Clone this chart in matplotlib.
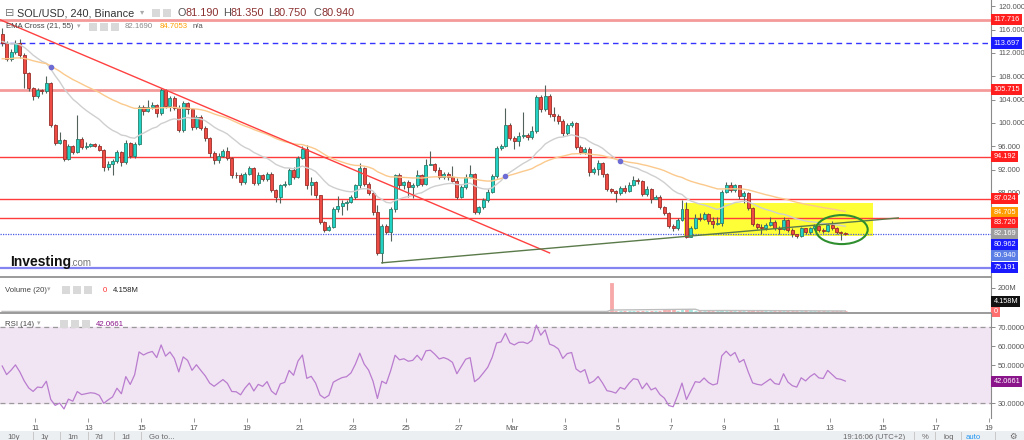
import numpy as np
import pandas as pd
import matplotlib
matplotlib.use("Agg")
import matplotlib.pyplot as plt
import matplotlib.dates as mdates
from matplotlib.patches import Rectangle, Ellipse
from matplotlib.lines import Line2D

plt.rcParams['font.family'] = ['Liberation Sans', 'DejaVu Sans']

# SOL/USD 4h candles (first candle opens Feb 9, 18:00)
first_candle = "2022-02-09 18:00"
first_open = 115.3
close = [
    113.7, 111.0, 112.2, 113.7, 111.6, 108.6, 106.0, 104.6, 105.6, 105.4,
    106.8, 99.6, 96.5, 97.0, 93.8, 96.0, 95.0, 97.2, 95.9, 96.1,
    96.3, 96.1, 95.4, 92.4, 93.0, 93.5, 95.0, 93.3, 96.6, 94.3,
    96.4, 102.8, 102.0, 102.7, 103.1, 101.7, 105.6, 102.9, 104.2, 102.6,
    98.8, 103.4, 102.4, 99.3, 101.0, 99.2, 97.4, 94.8, 93.6, 94.4,
    95.2, 94.0, 91.1, 91.0, 89.9, 91.2, 92.2, 89.7, 91.0, 90.4,
    91.3, 88.5, 87.3, 89.3, 89.6, 92.0, 90.8, 94.0, 95.6, 89.3,
    89.8, 87.6, 83.0, 81.6, 82.2, 85.2, 85.8, 86.3, 86.5, 87.3,
    89.3, 92.2, 89.6, 88.0, 84.7, 77.7, 82.3, 81.3, 85.2, 91.0,
    89.4, 89.8, 89.0, 89.3, 91.0, 89.6, 92.8, 93.0, 92.0, 90.8,
    91.2, 90.8, 90.1, 87.3, 89.0, 90.8, 91.2, 84.7, 85.5, 86.8,
    88.2, 90.9, 95.7, 96.1, 99.6, 97.4, 96.9, 97.8, 97.9, 97.6,
    98.6, 104.4, 102.4, 104.6, 101.5, 101.1, 100.4, 98.2, 99.6, 99.9,
    95.9, 95.0, 95.6, 91.6, 92.1, 93.1, 91.2, 88.7, 88.4, 87.9,
    88.9, 88.4, 89.4, 90.2, 90.0, 87.8, 88.7, 87.0, 87.3, 85.6,
    84.6, 82.3, 81.9, 83.4, 85.3, 80.5, 82.0, 83.7, 83.5, 84.3,
    83.2, 82.6, 82.8, 88.2, 89.4, 88.5, 89.3, 87.4, 88.0, 85.4,
    82.6, 82.2, 82.0, 82.5, 83.0, 82.0, 81.8, 83.4, 81.7, 80.9,
    80.6, 81.9, 81.3, 81.9, 82.3, 81.6, 81.5, 82.5, 81.9, 81.3,
    81.19, 80.94,
]
high = [
    116.3, 114.0, 112.6, 114.2, 114.4, 112.0, 108.8, 106.2, 106.0, 105.9,
    108.0, 107.0, 99.8, 98.4, 97.2, 96.3, 96.2, 101.4, 97.6, 96.8,
    96.6, 96.6, 96.3, 95.6, 93.4, 93.8, 95.3, 95.2, 97.0, 96.8,
    96.8, 103.0, 103.1, 103.9, 103.6, 103.3, 106.0, 105.8, 104.6, 104.6,
    103.0, 103.8, 103.6, 102.5, 101.3, 101.4, 99.5, 97.6, 95.2, 94.8,
    95.5, 95.9, 94.2, 91.5, 91.4, 91.5, 92.6, 92.5, 91.5, 91.3,
    91.6, 91.5, 88.7, 89.6, 90.0, 92.3, 92.4, 94.4, 96.0, 96.2,
    90.8, 90.0, 87.7, 83.2, 82.5, 85.5, 87.5, 86.7, 86.8, 87.6,
    89.6, 93.1, 92.5, 89.8, 88.2, 85.9, 82.6, 82.6, 85.6, 91.3,
    91.4, 90.0, 90.2, 89.7, 92.0, 91.3, 93.8, 95.2, 93.2, 92.4,
    91.6, 91.5, 92.6, 90.6, 89.3, 91.2, 92.8, 91.4, 85.8, 87.1,
    88.6, 91.2, 96.1, 96.4, 102.5, 99.9, 97.8, 98.5, 101.8, 98.2,
    99.4, 104.8, 104.8, 106.5, 104.9, 102.7, 101.5, 100.6, 99.9, 100.4,
    100.2, 96.2, 95.9, 95.9, 92.4, 93.6, 93.3, 91.4, 88.9, 88.5,
    89.2, 89.3, 89.8, 90.9, 90.6, 90.2, 89.2, 88.9, 87.6, 87.7,
    85.8, 84.8, 82.6, 83.7, 86.8, 86.4, 82.3, 84.3, 84.6, 84.7,
    84.6, 83.8, 83.8, 88.5, 89.9, 89.9, 89.6, 89.4, 88.4, 88.2,
    85.6, 82.9, 82.6, 82.9, 83.9, 83.3, 82.3, 83.9, 83.6, 81.9,
    81.0, 82.2, 82.0, 82.2, 82.6, 82.5, 81.9, 82.9, 83.2, 82.1,
    81.5, 81.35,
]
low = [
    113.2, 110.6, 110.7, 111.9, 111.2, 106.0, 105.5, 104.0, 104.2, 105.0,
    105.2, 99.3, 96.2, 96.3, 93.4, 93.6, 94.7, 94.8, 95.5, 95.6,
    95.9, 95.8, 95.1, 91.8, 92.0, 91.1, 93.2, 92.6, 93.0, 93.9,
    94.0, 96.2, 101.4, 101.8, 102.4, 101.0, 101.3, 102.5, 102.0, 102.2,
    98.4, 98.5, 101.6, 98.8, 98.9, 98.8, 96.9, 94.2, 92.9, 93.2,
    94.1, 93.6, 90.6, 90.5, 89.4, 89.5, 91.0, 89.3, 89.4, 90.0,
    90.1, 88.2, 86.4, 86.3, 89.0, 89.3, 90.4, 90.5, 93.8, 88.6,
    87.6, 87.2, 82.6, 81.3, 81.4, 81.9, 84.8, 84.2, 85.0, 86.3,
    87.0, 88.8, 89.2, 87.6, 84.2, 77.3, 76.0, 80.9, 79.8, 84.7,
    88.7, 88.7, 87.3, 87.2, 89.0, 89.2, 89.4, 92.7, 91.5, 90.4,
    90.4, 90.2, 89.8, 87.0, 87.1, 88.7, 90.5, 84.3, 84.3, 85.3,
    86.5, 88.0, 90.6, 95.4, 95.8, 97.0, 95.6, 96.1, 97.4, 97.1,
    97.2, 98.3, 101.9, 102.0, 101.0, 100.3, 99.8, 97.8, 98.0, 99.3,
    95.5, 94.6, 94.7, 90.9, 91.3, 91.0, 90.8, 88.3, 88.0, 86.4,
    87.6, 88.0, 88.2, 89.2, 89.6, 87.4, 87.4, 86.3, 86.9, 85.2,
    84.2, 82.0, 81.5, 81.6, 83.2, 80.3, 80.4, 81.8, 83.2, 83.3,
    82.7, 82.0, 82.5, 82.4, 87.9, 88.1, 88.2, 87.0, 86.3, 85.1,
    82.3, 81.8, 81.0, 81.7, 82.3, 81.6, 81.0, 81.6, 81.3, 80.5,
    80.2, 80.5, 81.0, 81.0, 81.7, 81.3, 81.2, 81.3, 81.6, 81.0,
    80.0, 80.75,
]
# volume in millions (the feed shows no volume before Mar 4)
volume_m = [
    0, 0, 0, 0, 0, 0, 0, 0, 0, 0, 0, 0, 0, 0, 0, 0, 0, 0, 0, 0, 0, 0, 0, 0,
    0, 0, 0, 0, 0, 0, 0, 0, 0, 0, 0, 0, 0, 0, 0, 0, 0, 0, 0, 0, 0, 0, 0, 0,
    0, 0, 0, 0, 0, 0, 0, 0, 0, 0, 0, 0, 0, 0, 0, 0, 0, 0, 0, 0, 0, 0, 0, 0,
    0, 0, 0, 0, 0, 0, 0, 0, 0, 0, 0, 0, 0, 0, 0, 0, 0, 0, 0, 0, 0, 0, 0, 0,
    0, 0, 0, 0, 0, 0, 0, 0, 0, 0, 0, 0, 0, 0, 0, 0, 0, 0, 0, 0, 0, 0, 0, 0,
    0, 0, 0, 0, 0, 0, 0, 0, 0, 0, 0, 0, 0, 0, 0, 0, 0, 0,
    240, 6, 5, 4, 5, 3, 4, 6, 5, 7, 4, 8, 9, 12, 10, 8, 9, 14, 10, 8,
    6, 5, 6, 5, 4, 11, 8, 6, 5, 6, 5, 7, 9, 6, 5, 4, 5, 6, 4, 5,
    6, 5, 4, 5, 4, 3, 4, 4, 3, 5, 6, 4, 3, 0,
]

# EMA values just before the first visible candle
ema21_seed, ema55_seed = 114.0, 110.9

level_values = [117.716, 113.697, 105.715, 94.192, 87.024, 84.705, 83.720,
                82.169, 80.962, 80.940, 75.191]
level_box_colors = ['#ff1f1f', '#1a1aff', '#ff1f1f', '#ff1f1f', '#ff1f1f', '#ff9c00',
                    '#ff1f1f', '#9e9e9e', '#1a1aff', '#5a7ee6', '#1a1aff']
price_ticks = [88, 92, 96, 100, 104, 108, 112, 116, 120]
rsi_ticks = [30, 50, 60, 70]

# user drawings: (time, price)
red_trend = [("2022-02-09 16:00", 117.7), ("2022-03-02 10:00", 77.7)]
green_trend = [("2022-02-24 02:00", 76.0), ("2022-03-15 14:00", 83.7)]
yellow_box = [("2022-03-07 12:00", 80.6), ("2022-03-14 15:00", 86.25)]
circle_center = ("2022-03-13 10:45", 81.7)

W, H = 1024, 440
fig = plt.figure(figsize=(W / 100, H / 100), dpi=100)


def panel(top, bottom, share=None):
    return fig.add_axes([0, 1 - bottom / H, 991 / W, (bottom - top) / H], sharex=share)


ax = panel(0, 277)
axv = panel(277, 313, ax)
axr = panel(313, 418, ax)

t = mdates.date2num(pd.date_range(first_candle, periods=len(close), freq="4h").to_pydatetime())
o = np.array([first_open] + close[:-1])
o[-1] = 81.19
c = np.array(close)
hi = np.array(high)
lo = np.array(low)
up = c >= o
w = 0.113

# candles
ax.vlines(t, lo, hi, color='#52625a', lw=0.8, zorder=3)
body = np.maximum(np.abs(c - o), 0.12)
ax.bar(t, body, bottom=np.minimum(o, c), width=w,
       color=np.where(up, '#22d3c5', '#ee4b45'),
       edgecolor=np.where(up, '#2a7f6c', '#9a2e2a'), linewidth=0.6, zorder=4)


def ema(vals, span, seed):
    a = 2 / (span + 1)
    e, out = seed, []
    for v in vals:
        e = e + a * (v - e)
        out.append(e)
    return np.array(out)


e21 = ema(close, 21, ema21_seed)
e55 = ema(close, 55, ema55_seed)
ax.plot(t, e21, color='#cfcfcf', lw=1.0, zorder=5)
ax.plot(t, e55, color='#fbc98c', lw=1.0, zorder=5)
diff = e21 - e55
cross = np.where(np.sign(diff[1:]) != np.sign(diff[:-1]))[0] + 1
ax.plot(t[cross], (e21[cross] + e55[cross]) / 2, 'o', color='#6c6cd4', ms=3, zorder=6)

# horizontal levels
ax.axhline(117.716, color='#f59a9a', lw=2, zorder=2)
ax.axhline(113.697, color='#3535ff', lw=1, ls=(0, (4, 3)), zorder=2)
ax.axhline(105.715, color='#f59a9a', lw=2, zorder=2)
for lv in (94.192, 87.024, 83.720):
    ax.axhline(lv, color='#ff3b3b', lw=1, zorder=2)
ax.axhline(80.940, color='#4b5be6', lw=0.9, ls=(0, (1, 1)), zorder=2)
ax.axhline(75.191, color='#8383f2', lw=1.6, zorder=2)


def dn(s):
    return mdates.datestr2num(s)


# drawings
ax.plot([dn(p[0]) for p in red_trend], [p[1] for p in red_trend], color='#ff4040', lw=1, zorder=6)
ax.plot([dn(p[0]) for p in green_trend], [p[1] for p in green_trend], color='#5b7a4a', lw=1, zorder=6)
x0, x1 = dn(yellow_box[0][0]), dn(yellow_box[1][0])
ax.add_patch(Rectangle((x0, yellow_box[0][1]), x1 - x0, yellow_box[1][1] - yellow_box[0][1],
                       fc='#ffff22', ec='none', alpha=0.9, zorder=1))
ax.add_patch(Ellipse((dn(circle_center[0]), circle_center[1]), 1.96, 4.97,
                     fc='none', ec='#2f8f2f', lw=1.5, zorder=7))

# volume
axv.bar(t, volume_m, width=w, color=np.where(up, '#9fe5dc', '#f7a8a8'),
        edgecolor=np.where(up, '#9fe5dc', '#f7a8a8'), linewidth=0.6)
axv.plot(t, pd.Series(volume_m).rolling(20, min_periods=1).mean(), color='#bdbdbd', lw=1)


# RSI (Wilder, 14)
def rsi(vals, prev, n, g, l):
    out = []
    for v in vals:
        d = v - prev
        prev = v
        g = (g * (n - 1) + max(d, 0)) / n
        l = (l * (n - 1) + max(-d, 0)) / n
        out.append(100 - 100 / (1 + g / l))
    return np.array(out)


r = rsi(close, first_open, 14, 1.1, 1.0)
axr.axhspan(30, 70, color='#f2e5f3', zorder=0)
axr.axhline(70, color='#999999', lw=0.9, ls=(0, (4, 3)))
axr.axhline(30, color='#999999', lw=0.9, ls=(0, (4, 3)))
axr.plot(t, r, color='#b97ccf', lw=0.9)

# axes cosmetics
ax.set_xlim(dn("2022-02-09 16:00"), dn("2022-03-19 02:00"))
ax.set_ylim(73.57, 121.08)
axv.set_ylim(-12.9, 288.8)
axr.set_ylim(22.1, 77.4)
for a in (ax, axv, axr):
    for s in ('top', 'left'):
        a.spines[s].set_visible(False)
    a.spines['right'].set_color('#8a8a8a')
    a.spines['bottom'].set_color('#8a8a8a')
    a.spines['bottom'].set_linewidth(1.2)
    a.yaxis.tick_right()
    a.tick_params(axis='y', length=3, width=0.7, color='#8a8a8a', labelsize=5.4,
                  labelcolor='#555555', pad=2)
    a.set_facecolor('none')
axr.spines['bottom'].set_visible(False)
ax.tick_params(axis='x', bottom=False, labelbottom=False)
axv.tick_params(axis='x', bottom=False, labelbottom=False)

ax.set_yticks(price_ticks)
ax.yaxis.set_major_formatter(matplotlib.ticker.FormatStrFormatter('%.3f'))
axv.set_yticks([200])
axv.set_yticklabels(['200M'])
axr.set_yticks(rsi_ticks)
axr.yaxis.set_major_formatter(matplotlib.ticker.FormatStrFormatter('%.4f'))

tick_days = pd.date_range("2022-02-11", "2022-03-19", freq="2D")
axr.set_xticks(mdates.date2num(tick_days.to_pydatetime()))
axr.set_xticklabels(['Mar' if d.day == 1 else str(d.day) for d in tick_days])
axr.tick_params(axis='x', length=3, width=0.7, color='#999999', labelsize=5.6,
                labelcolor='#555555', pad=2)


# price boxes on the right axis, pushed apart when they overlap
def boxes(a, vals, colors, gap, fs=5.3):
    prev = None
    for v, col in sorted(zip(vals, colors), key=lambda p: -p[0]):
        y = v if prev is None else min(v, prev - gap)
        prev = y
        a.text(1.0025, y, f"{v:.3f}", transform=a.get_yaxis_transform(), ha='left', va='center',
               color='white', fontsize=fs, zorder=20, clip_on=False,
               bbox=dict(boxstyle='square,pad=0.28', fc=col, ec='none'))


boxes(ax, level_values, level_box_colors, 1.85)
axr.text(1.0025, r[-1], "42.0661", transform=axr.get_yaxis_transform(), ha='left', va='center',
         color='white', fontsize=5.3, zorder=20, clip_on=False,
         bbox=dict(boxstyle='square,pad=0.28', fc='#8a148a', ec='none'))
axv.text(1.0025, 0, "0", transform=axv.get_yaxis_transform(), ha='left', va='center',
         color='white', fontsize=5.3, zorder=20, clip_on=False,
         bbox=dict(boxstyle='square,pad=0.28', fc='#ff6f6f', ec='none'))
axv.text(1.0025, 86, "4.158M", transform=axv.get_yaxis_transform(), ha='left', va='center',
         color='white', fontsize=5.3, zorder=20, clip_on=False,
         bbox=dict(boxstyle='square,pad=0.28', fc='#111111', ec='none'))


# header texts, placed in pixel coordinates
def ftext(x, y, s, **kw):
    kw.setdefault('va', 'center')
    fig.text(x / W, 1 - y / H, s, **kw)


def icon(x, y, s=8):
    fig.patches.append(Rectangle((x / W, 1 - (y + s / 2) / H), s / W, s / H,
                                 transform=fig.transFigure, fc='#d9d9d9', ec='none', zorder=20))


ftext(5, 13, "⊟", fontsize=8, color='#777777')
ftext(17, 13, "SOL/USD, 240, Binance", fontsize=7.8, color='#333333')
ftext(140, 13, "▾", fontsize=6, color='#aaaaaa')
icon(152, 13)
icon(163, 13)
for x, lab, val in ((177, "O", "81.190"), (223, "H", "81.350"), (268, "L", "80.750"), (313, "C", "80.940")):
    ftext(x, 13, lab, fontsize=7.8, color='#555555')
    ftext(x + (8.3 if lab in "OC" else 7.6 if lab == "H" else 6.0), 13, val, fontsize=7.8, color='#8b2f2f')

ftext(6, 27, "EMA Cross (21, 55)", fontsize=5.6, color='#444444')
ftext(77, 27, "▾", fontsize=5, color='#aaaaaa')
for x in (89, 100, 111):
    icon(x, 27)
ftext(125, 27, "82.1690", fontsize=5.6, color='#888888')
ftext(160, 27, "84.7053", fontsize=5.6, color='#ff9c00')
ftext(193, 27, "n/a", fontsize=5.6, color='#555555')

ftext(5, 290, "Volume (20)", fontsize=5.6, color='#444444')
ftext(47, 290, "▾", fontsize=5, color='#aaaaaa')
for x in (62, 73, 84):
    icon(x, 290)
ftext(103, 290, "0", fontsize=5.6, color='#ff3030')
ftext(113, 290, "4.158M", fontsize=5.6, color='#222222')

ftext(5, 324, "RSI (14)", fontsize=5.6, color='#444444')
ftext(37, 324, "▾", fontsize=5, color='#aaaaaa')
for x in (60, 71, 82):
    icon(x, 324)
ftext(96, 324, "42.0661", fontsize=5.6, color='#8a148a')

ftext(10, 266, "Investing", fontsize=10, fontweight='bold', color='#111111', va='baseline')
ftext(70, 266, ".com", fontsize=7, color='#777777', va='baseline')

# bottom toolbar
fig.patches.append(Rectangle((0, 0), 1, 9 / H, transform=fig.transFigure, fc='#eceff2', ec='none'))
for x, s in ((7, "10y"), (40, "1y"), (67, "1m"), (95, "7d"), (121, "1d"), (149, "Go to...")):
    ftext(x, 437, s, fontsize=5.6, color='#666666')
for x in (33, 60, 88, 114, 141):
    fig.add_artist(Line2D([x / W, x / W], [0, 8 / H], color='#c8c8c8', lw=0.7))
ftext(843, 437, "19:16:06 (UTC+2)", fontsize=5.6, color='#666666')
ftext(922, 437, "%", fontsize=5.6, color='#666666')
ftext(944, 437, "log", fontsize=5.6, color='#666666')
ftext(966, 437, "auto", fontsize=5.6, color='#2196f3')
ftext(1009, 437, "⚙", fontsize=6, color='#666666')
for x in (914, 935, 961, 995):
    fig.add_artist(Line2D([x / W, x / W], [0, 8 / H], color='#c8c8c8', lw=0.7))

fig.savefig("out.png", dpi=100)
